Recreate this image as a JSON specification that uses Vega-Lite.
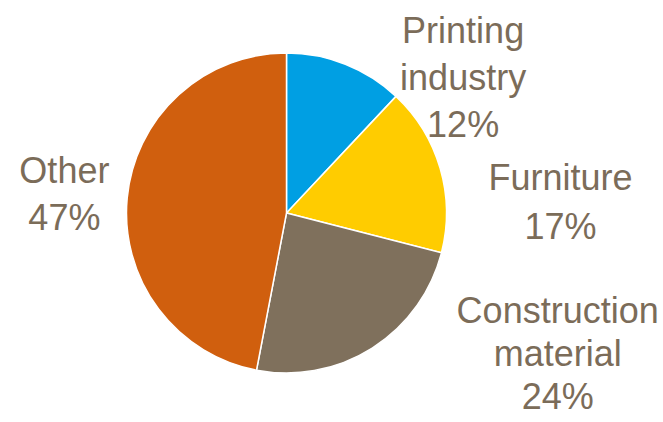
{
  "$schema": "https://vega.github.io/schema/vega-lite/v6.json",
  "width": 573,
  "height": 422,
  "autosize": {"type": "none"},
  "padding": {"left": 0, "top": 2, "right": 90, "bottom": 0},
  "background": "white",
  "view": {"stroke": null},
  "data": {
    "values": [
      {"category": "Printing industry", "value": 12, "order": 1, "label": "Printing\nindustry\n12%"},
      {"category": "Furniture", "value": 17, "order": 2, "label": "Furniture\n17%"},
      {"category": "Construction material", "value": 24, "order": 3, "label": "Construction\nmaterial\n24%"},
      {"category": "Other", "value": 47, "order": 4, "label": "Other\n47%"}
    ]
  },
  "transform": [
    {"stack": "value", "groupby": [], "sort": [{"field": "order"}], "as": ["v0", "v1"]},
    {"calculate": "(datum.v0 + datum.v1) / 2", "as": "mid"}
  ],
  "layer": [
    {
      "mark": {"type": "arc", "outerRadius": 160, "stroke": "white", "strokeWidth": 1.5},
      "encoding": {
        "theta": {"field": "v0", "type": "quantitative", "scale": {"domain": [0, 100]}},
        "theta2": {"field": "v1"},
        "color": {
          "field": "category",
          "type": "nominal",
          "scale": {
            "domain": ["Printing industry", "Furniture", "Construction material", "Other"],
            "range": ["#009FE3", "#FFCC00", "#7F705C", "#D05F0E"]
          },
          "legend": null
        }
      }
    },
    {
      "transform": [{"filter": "datum.category == 'Printing industry'"}],
      "mark": {"type": "text", "radius": 200, "dx": 103, "dy": 5, "font": "Liberation Sans, Arial, sans-serif", "fontSize": 36, "lineHeight": 47, "lineBreak": "\n", "align": "center", "baseline": "middle", "color": "#7B6C59"},
      "encoding": {"theta": {"field": "mid", "type": "quantitative"}, "text": {"field": "label"}}
    },
    {
      "transform": [{"filter": "datum.category == 'Furniture'"}],
      "mark": {"type": "text", "radius": 200, "dx": 82, "dy": 22, "font": "Liberation Sans, Arial, sans-serif", "fontSize": 36, "lineHeight": 49, "lineBreak": "\n", "align": "center", "baseline": "middle", "color": "#7B6C59"},
      "encoding": {"theta": {"field": "mid", "type": "quantitative"}, "text": {"field": "label"}}
    },
    {
      "transform": [{"filter": "datum.category == 'Construction material'"}],
      "mark": {"type": "text", "radius": 200, "dx": 164, "dy": -70, "font": "Liberation Sans, Arial, sans-serif", "fontSize": 36, "lineHeight": 43, "lineBreak": "\n", "align": "center", "baseline": "middle", "color": "#7B6C59"},
      "encoding": {"theta": {"field": "mid", "type": "quantitative"}, "text": {"field": "label"}}
    },
    {
      "transform": [{"filter": "datum.category == 'Other'"}],
      "mark": {"type": "text", "radius": 200, "dx": -23, "dy": -22, "font": "Liberation Sans, Arial, sans-serif", "fontSize": 36, "lineHeight": 47, "lineBreak": "\n", "align": "center", "baseline": "middle", "color": "#7B6C59"},
      "encoding": {"theta": {"field": "mid", "type": "quantitative"}, "text": {"field": "label"}}
    }
  ]
}
